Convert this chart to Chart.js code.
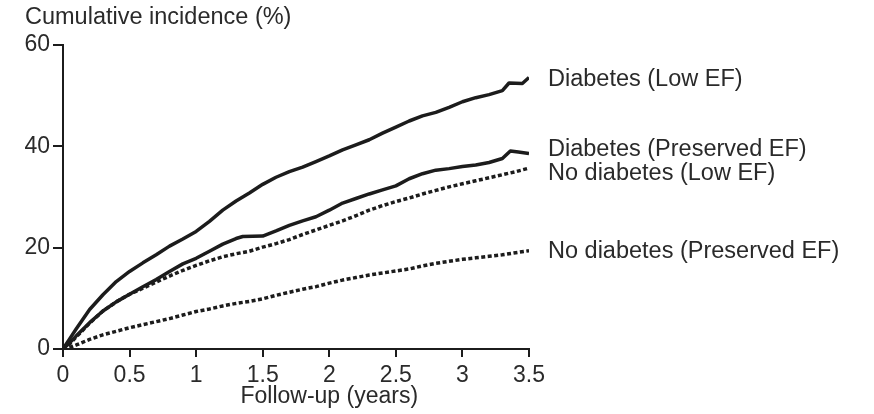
<!DOCTYPE html>
<html>
<head>
<meta charset="utf-8">
<script src="https://cdn.jsdelivr.net/npm/chart.js@4.4.1/dist/chart.umd.min.js"></script>
<style>
html,body{margin:0;padding:0;background:#fff;}
#wrap{position:relative;width:874px;height:414px;}
</style>
</head>
<body>
<div id="wrap"><canvas id="c" width="874" height="414"></canvas></div>
<script>
// Follow-up time (years) and cumulative incidence (%)
const dlo_x = [0,0.05,0.1,0.2,0.3,0.4,0.5,0.6,0.7,0.8,0.9,1.0,1.1,1.2,1.3,1.4,1.5,1.6,1.7,1.8,1.9,2.0,2.1,2.2,2.3,2.4,2.5,2.6,2.7,2.8,2.9,3.0,3.1,3.2,3.3,3.35,3.45,3.5];
const dlo_y = [0,2.0,4.0,7.8,10.7,13.3,15.3,17.0,18.6,20.3,21.7,23.2,25.2,27.4,29.2,30.8,32.5,33.9,35.0,35.9,37.0,38.1,39.3,40.3,41.3,42.6,43.8,45.0,46.0,46.7,47.7,48.8,49.6,50.2,51.0,52.5,52.4,53.6];

const dpr_x = [0,0.05,0.1,0.2,0.3,0.4,0.5,0.6,0.7,0.8,0.9,1.0,1.1,1.2,1.3,1.35,1.5,1.6,1.7,1.8,1.9,2.0,2.1,2.2,2.3,2.4,2.5,2.6,2.7,2.8,2.9,3.0,3.1,3.2,3.3,3.36,3.42,3.5];
const dpr_y = [0,1.2,2.6,5.2,7.5,9.3,10.8,12.3,13.7,15.3,16.8,17.9,19.3,20.7,21.8,22.2,22.3,23.3,24.4,25.3,26.1,27.4,28.8,29.7,30.6,31.4,32.2,33.6,34.6,35.3,35.6,36.0,36.3,36.8,37.6,39.1,38.9,38.6];

const nlo_x = [0,0.05,0.1,0.2,0.3,0.4,0.5,0.6,0.7,0.8,0.9,1.0,1.1,1.2,1.3,1.4,1.5,1.6,1.7,1.8,1.9,2.0,2.1,2.2,2.3,2.4,2.5,2.6,2.7,2.8,2.9,3.0,3.1,3.2,3.3,3.4,3.5];
const nlo_y = [0,1.0,2.4,5.1,7.5,9.3,10.8,12.0,13.2,14.4,15.5,16.5,17.4,18.2,18.8,19.3,20.1,20.8,21.6,22.6,23.5,24.4,25.3,26.3,27.4,28.3,29.1,29.8,30.6,31.3,32.0,32.6,33.2,33.8,34.4,35.0,35.7];

const npr_x = [0,0.05,0.1,0.2,0.3,0.4,0.5,0.6,0.7,0.8,0.9,1.0,1.1,1.2,1.3,1.4,1.5,1.6,1.7,1.8,1.9,2.0,2.1,2.2,2.3,2.4,2.5,2.6,2.7,2.8,2.9,3.0,3.1,3.2,3.3,3.4,3.5];
const npr_y = [0,0.3,0.8,1.9,2.8,3.5,4.2,4.8,5.4,6.0,6.7,7.4,7.9,8.5,9.0,9.4,9.9,10.6,11.2,11.8,12.3,13.0,13.6,14.1,14.6,15.0,15.4,15.8,16.4,16.9,17.3,17.7,18.0,18.3,18.6,19.0,19.4];

const seriesNames = ["Diabetes (Low EF)", "Diabetes (Preserved EF)", "No diabetes (Low EF)", "No diabetes (Preserved EF)"];
const labelAnchor = [53.1, 39.3, 34.7, 19.2];  // value at which each end label sits
const yTitle = "Cumulative incidence (%)";
const xTitle = "Follow-up (years)";
const xMin = 0, xMax = 3.5, xStep = 0.5;
const yMin = 0, yMax = 60, yStep = 20;

const FONT = "'Liberation Sans', Arial, Helvetica, sans-serif";
const INK = '#1c1c1c';
const TXT = '#2a2a2a';

function pts(xs, ys){ return xs.map((x,i)=>({x:x, y:ys[i]})); }

const textLayer = {
  id: 'textLayer',
  afterDraw(chart){
    const ctx = chart.ctx;
    const xs = chart.scales.x, ys = chart.scales.y;
    ctx.save();
    ctx.fillStyle = TXT;
    ctx.font = '23.5px ' + FONT;
    ctx.textAlign = 'left';
    ctx.textBaseline = 'middle';
    ctx.fillText(yTitle, 25, 18);
    seriesNames.forEach((n,i)=>{
      ctx.fillText(n, xs.right + 19, ys.getPixelForValue(labelAnchor[i]));
    });
    ctx.font = '23px ' + FONT;
    ctx.textAlign = 'center';
    ctx.fillText(xTitle, xs.getPixelForValue(2), 397);
    ctx.restore();
  }
};

new Chart(document.getElementById('c'), {
  type: 'line',
  data: {
    datasets: [
      {label: seriesNames[0], data: pts(dlo_x, dlo_y), borderColor: INK, borderWidth: 3.5},
      {label: seriesNames[1], data: pts(dpr_x, dpr_y), borderColor: INK, borderWidth: 3.5},
      {label: seriesNames[2], data: pts(nlo_x, nlo_y), borderColor: INK, borderWidth: 3.5, borderDash: [4, 2.5]},
      {label: seriesNames[3], data: pts(npr_x, npr_y), borderColor: INK, borderWidth: 3.5, borderDash: [4, 2.5]}
    ]
  },
  options: {
    responsive: false,
    animation: false,
    elements: { point: { radius: 0 }, line: { tension: 0, borderCapStyle: 'butt', borderJoinStyle: 'round' } },
    layout: { padding: { top: 45, left: 0, right: 345, bottom: 0 } },
    plugins: { legend: { display: false }, tooltip: { enabled: false }, title: { display: false } },
    scales: {
      x: {
        type: 'linear', min: xMin, max: xMax,
        afterFit(s){ s.height = 65; },
        ticks: { stepSize: xStep, color: TXT, font: { family: FONT, size: 23 }, padding: 5, maxRotation: 0, autoSkip: false,
                 callback: (v) => String(Math.round(v * 10) / 10) },
        grid: { display: true, drawOnChartArea: false, drawTicks: true, tickLength: 8, color: INK, lineWidth: 2 },
        border: { display: true, color: INK, width: 2 }
      },
      y: {
        type: 'linear', min: yMin, max: yMax,
        afterFit(s){ s.width = 63; },
        ticks: { stepSize: yStep, color: TXT, font: { family: FONT, size: 23 }, padding: 3 },
        grid: { display: true, drawOnChartArea: false, drawTicks: true, tickLength: 10, color: INK, lineWidth: 2 },
        border: { display: true, color: INK, width: 2 }
      }
    }
  },
  plugins: [textLayer]
});
</script>
</body>
</html>
